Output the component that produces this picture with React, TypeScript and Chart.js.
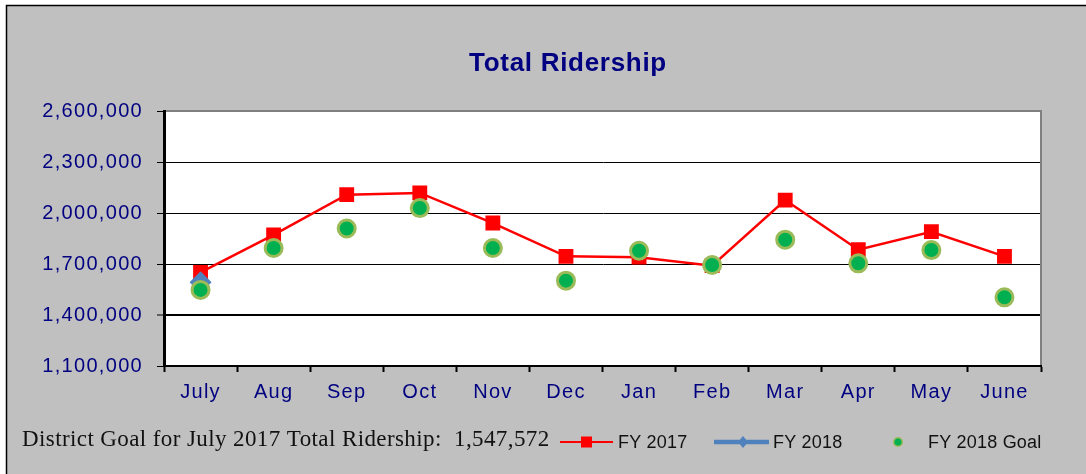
import React, { useEffect, useRef } from "react";
import { Chart, registerables } from "chart.js";

Chart.register(...registerables);

const months = ["July", "Aug", "Sep", "Oct", "Nov", "Dec", "Jan", "Feb", "Mar", "Apr", "May", "June"];
const fy2017 = [1651000, 1871000, 2108000, 2118000, 1941000, 1745000, 1740000, 1690000, 2076000, 1784000, 1890000, 1745000];
const fy2018 = [1592000, null, null, null, null, null, null, null, null, null, null, null];
const fy2018Goal = [1547572, 1794000, 1909000, 2029000, 1794000, 1602000, 1778000, 1694000, 1843000, 1704000, 1782000, 1504000];
const yTicks = [1100000, 1400000, 1700000, 2000000, 2300000, 2600000];
const titleText = "Total Ridership";
const footText = "District Goal for July 2017 Total Ridership:  1,547,572";
const legendLabels = ["FY 2017", "FY 2018", "FY 2018 Goal"];

const W = 1086;
const H = 474;
const NAVY = "#000080";

const decorPlugin = {
  id: "decor",
  beforeDraw(chart: any) {
    const ctx = chart.ctx;
    const ca = chart.chartArea;
    ctx.save();
    ctx.fillStyle = "#ffffff";
    ctx.fillRect(0, 0, W, H);
    ctx.fillStyle = "#c0c0c0";
    ctx.fillRect(6, 5, W - 6, H - 5);
    ctx.strokeStyle = "#000";
    ctx.lineWidth = 1.5;
    ctx.beginPath();
    ctx.moveTo(6.5, H);
    ctx.lineTo(6.5, 5.5);
    ctx.lineTo(W, 5.5);
    ctx.stroke();
    ctx.fillStyle = "#ffffff";
    ctx.fillRect(ca.left, ca.top, ca.right - ca.left, ca.bottom - ca.top);
    // title
    ctx.fillStyle = NAVY;
    ctx.font = "bold 26px 'Liberation Sans', Arial, sans-serif";
    (ctx as any).letterSpacing = "0.7px";
    ctx.textAlign = "center";
    ctx.textBaseline = "alphabetic";
    ctx.fillText(titleText, 568, 71);
    ctx.restore();
    (ctx as any).letterSpacing = "1.3px";
  },
  beforeDatasetsDraw(chart: any) {
    (chart.ctx as any).letterSpacing = "0px";
  },
  afterDraw(chart: any) {
    const ctx = chart.ctx;
    const ca = chart.chartArea;
    ctx.save();
    (ctx as any).letterSpacing = "0px";
    // gray top/right plot border
    ctx.strokeStyle = "#808080";
    ctx.lineWidth = 2;
    ctx.beginPath();
    ctx.moveTo(ca.left + 2, ca.top);
    ctx.lineTo(ca.right, ca.top);
    ctx.lineTo(ca.right, ca.bottom - 1);
    ctx.stroke();

    // footnote
    ctx.fillStyle = "#111";
    ctx.font = "23px 'Liberation Serif', 'Times New Roman', serif";
    (ctx as any).letterSpacing = "0.4px";
    ctx.textAlign = "left";
    ctx.textBaseline = "alphabetic";
    ctx.fillText(footText, 22, 446);

    // legend
    const ly = 442;
    (ctx as any).letterSpacing = "0.2px";
    ctx.font = "18px 'Liberation Sans', Arial, sans-serif";
    ctx.textBaseline = "middle";
    // FY 2017
    ctx.strokeStyle = "#ff0000";
    ctx.lineWidth = 2;
    ctx.beginPath();
    ctx.moveTo(560, ly);
    ctx.lineTo(613, ly);
    ctx.stroke();
    ctx.fillStyle = "#ff0000";
    ctx.fillRect(581, ly - 5.5, 11, 11);
    ctx.fillStyle = "#111";
    ctx.fillText(legendLabels[0], 618, ly + 1);
    // FY 2018
    ctx.strokeStyle = "#4f81bd";
    ctx.lineWidth = 4.5;
    ctx.beginPath();
    ctx.moveTo(714, ly);
    ctx.lineTo(769, ly);
    ctx.stroke();
    ctx.fillStyle = "#4f81bd";
    ctx.beginPath();
    ctx.moveTo(743, ly - 6);
    ctx.lineTo(748, ly);
    ctx.lineTo(743, ly + 6);
    ctx.lineTo(738, ly);
    ctx.closePath();
    ctx.fill();
    ctx.fillStyle = "#111";
    ctx.fillText(legendLabels[1], 773, ly + 1);
    // FY 2018 Goal
    ctx.beginPath();
    ctx.arc(898, ly, 4.3, 0, Math.PI * 2);
    ctx.fillStyle = "#00b050";
    ctx.fill();
    ctx.lineWidth = 1.5;
    ctx.strokeStyle = "#9bbb59";
    ctx.stroke();
    ctx.fillStyle = "#111";
    ctx.fillText(legendLabels[2], 928, ly + 1);
    ctx.restore();
  },
};

export default function App() {
  const ref = useRef<HTMLCanvasElement | null>(null);
  useEffect(() => {
    if (!ref.current) return;
    const chart = new Chart(ref.current, {
      type: "line",
      data: {
        labels: months,
        datasets: [
          {
            label: legendLabels[2],
            data: fy2018Goal,
            showLine: false,
            pointStyle: "circle",
            pointRadius: 8.5,
            pointBackgroundColor: "#00b050",
            pointBorderColor: "#9bbb59",
            pointBorderWidth: 3,
            order: 0,
          },
          {
            label: legendLabels[1],
            data: fy2018,
            borderColor: "#4f81bd",
            borderWidth: 4,
            pointStyle: "rectRot",
            pointRadius: 11,
            pointBackgroundColor: "#4f81bd",
            pointBorderColor: "#4f81bd",
            pointBorderWidth: 0,
            order: 1,
          },
          {
            label: legendLabels[0],
            data: fy2017,
            borderColor: "#ff0000",
            borderWidth: 2.5,
            pointStyle: "rect",
            pointRadius: 10.5,
            pointBackgroundColor: "#ff0000",
            pointBorderColor: "#ff0000",
            pointBorderWidth: 0,
            tension: 0,
            order: 2,
          },
        ],
      },
      options: {
        responsive: false,
        animation: false,
        devicePixelRatio: 1,
        layout: { padding: { left: 0, top: 111, right: 45, bottom: 0 } },
        plugins: {
          legend: { display: false },
          title: { display: false },
          tooltip: { enabled: false },
        },
        scales: {
          x: {
            type: "category",
            offset: true,
            afterFit: (s: any) => {
              s.height = 108;
            },
            grid: {
              offset: true,
              drawOnChartArea: false,
              drawTicks: true,
              tickLength: 6,
              tickColor: "#000",
              tickWidth: 2,
            },
            border: { display: true, color: "#000", width: 2 },
            ticks: {
              color: NAVY,
              font: { family: "'Liberation Sans', Arial, sans-serif", size: 20 },
              padding: 8,
              autoSkip: false,
              maxRotation: 0,
            },
          },
          y: {
            min: yTicks[0],
            max: yTicks[yTicks.length - 1],
            afterFit: (s: any) => {
              s.width = 164;
            },
            afterBuildTicks: (s: any) => {
              s.ticks = yTicks.map((v) => ({ value: v }));
            },
            grid: {
              color: "#000",
              lineWidth: (c: any) => (c.tick && c.tick.value === 1400000 ? 2 : 1),
              drawTicks: true,
              tickLength: 7,
              tickColor: "#000",
              tickWidth: 1,
            },
            border: { display: true, color: "#000", width: 3 },
            ticks: {
              color: NAVY,
              font: { family: "'Liberation Sans', Arial, sans-serif", size: 20 },
              padding: 14,
              callback: (v: any) => Number(v).toLocaleString("en-US"),
            },
          },
        },
      },
      plugins: [decorPlugin],
    });
    return () => chart.destroy();
  }, []);
  return (
    <div style={{ position: "absolute", left: 0, top: 0, width: W, height: H }}>
      <canvas ref={ref} width={W} height={H} style={{ display: "block", width: W, height: H }} />
    </div>
  );
}
